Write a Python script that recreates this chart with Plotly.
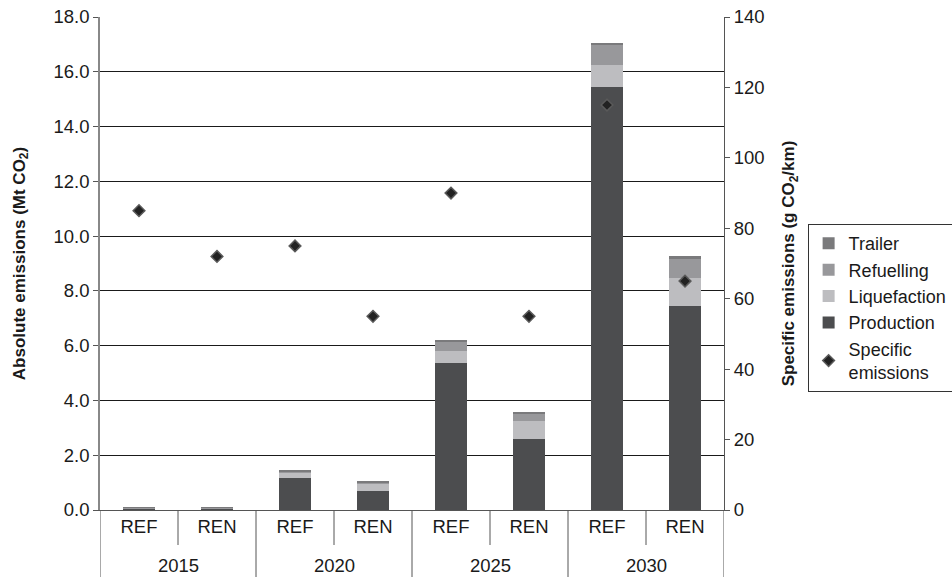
import plotly.graph_objects as go

# Scenario groups and labels
years = ["2015", "2015", "2020", "2020", "2025", "2025", "2030", "2030"]
scenarios = ["REF", "REN", "REF", "REN", "REF", "REN", "REF", "REN"]

# Absolute emissions by stage (Mt CO2)
production = [0.06, 0.06, 1.18, 0.70, 5.37, 2.59, 15.44, 7.46]
liquefaction = [0.01, 0.01, 0.18, 0.24, 0.44, 0.66, 0.81, 1.02]
refuelling = [0.01, 0.01, 0.06, 0.08, 0.35, 0.29, 0.75, 0.72]
trailer = [0.01, 0.01, 0.04, 0.04, 0.04, 0.04, 0.04, 0.06]

# Specific emissions (g CO2/km)
specific = [85, 72, 75, 55, 90, 55, 115, 65]

pos = list(range(len(scenarios)))
font_family = "Liberation Sans, Arial, sans-serif"
fs = 18.5
axis_grey = "#555"

fig = go.Figure()
stages = [
    ("Production", production, "#4c4d4f", 4),
    ("Liquefaction", liquefaction, "#bdbdc0", 3),
    ("Refuelling", refuelling, "#98989b", 2),
    ("Trailer", trailer, "#7a7a7c", 1),
]
for name, vals, color, rank in stages:
    fig.add_trace(go.Bar(
        x=pos, y=vals, name=name, marker=dict(color=color, line=dict(width=0)),
        legendrank=rank, yaxis="y",
    ))

fig.add_trace(go.Scatter(
    x=pos, y=specific, name="Specific<br>emissions", mode="markers",
    marker=dict(symbol="diamond", size=9, color="#222222",
                line=dict(color="#5a5a5a", width=1.5)),
    legendrank=5, yaxis="y2",
))

# Two-level category axis: scenario ticks, year groups below with dividers
plot_h = 579 - 17 - 69
short_len = -35 / plot_h
long_len = -67 / plot_h

groups = []
for i, yr in enumerate(years):
    if not groups or groups[-1][0] != yr:
        groups.append([yr, i, i])
    else:
        groups[-1][2] = i

shapes = []
annotations = []
for yr, first, last in groups:
    # divider between scenarios inside a year group
    for b in range(first, last):
        shapes.append(dict(type="line", xref="x", yref="paper",
                           x0=b + 0.5, x1=b + 0.5, y0=0, y1=short_len,
                           line=dict(color=axis_grey, width=1)))
    annotations.append(dict(text=yr, xref="x", yref="paper",
                            x=(first + last) / 2, y=-55 / plot_h,
                            showarrow=False, yanchor="middle",
                            font=dict(size=fs, color="#1a1a1a")))
# group boundaries, including both outer edges
edges = [groups[0][1] - 0.5] + [g[2] + 0.5 for g in groups]
for e in edges:
    shapes.append(dict(type="line", xref="x", yref="paper",
                       x0=e, x1=e, y0=0, y1=long_len,
                       line=dict(color=axis_grey, width=1)))

fig.update_layout(
    width=952, height=579,
    margin=dict(l=100, r=228, t=17, b=69, autoexpand=False),
    paper_bgcolor="white", plot_bgcolor="white",
    barmode="stack", bargap=0.59,
    font=dict(family=font_family, size=fs, color="#1a1a1a"),
    showlegend=True,
    legend=dict(
        x=1.134, y=0.58, xanchor="left", yanchor="top",
        traceorder="normal", bordercolor="#333", borderwidth=1,
        font=dict(size=18), itemwidth=30, tracegroupgap=0,
    ),
    shapes=shapes,
    annotations=annotations,
    xaxis=dict(
        range=[-0.5, len(pos) - 0.5], tickmode="array",
        tickvals=pos, ticktext=scenarios, ticks="",
        showline=True, linecolor=axis_grey, linewidth=1,
        tickfont=dict(size=fs), showgrid=False, zeroline=False,
        automargin=False,
    ),
    yaxis=dict(
        range=[0, 18], dtick=2, tickformat=".1f",
        showgrid=True, gridcolor="#1a1a1a", gridwidth=1,
        showline=True, linecolor="#888", linewidth=1.5,
        ticks="outside", ticklen=5, tickcolor=axis_grey,
        tickfont=dict(size=fs), zeroline=False, automargin=False,
        title=dict(text="<b>Absolute emissions (Mt CO<sub>2</sub>)</b>",
                   font=dict(size=17), standoff=24),
    ),
    yaxis2=dict(
        range=[0, 140], dtick=20, overlaying="y", side="right",
        showgrid=False, showline=True, linecolor=axis_grey, linewidth=1,
        ticks="outside", ticklen=5, tickcolor=axis_grey,
        tickfont=dict(size=fs), zeroline=False, automargin=False,
        title=dict(text="<b>Specific emissions (g CO<sub>2</sub>/km)</b>",
                   font=dict(size=17), standoff=18),
    ),
)

fig.write_html("out.html")
